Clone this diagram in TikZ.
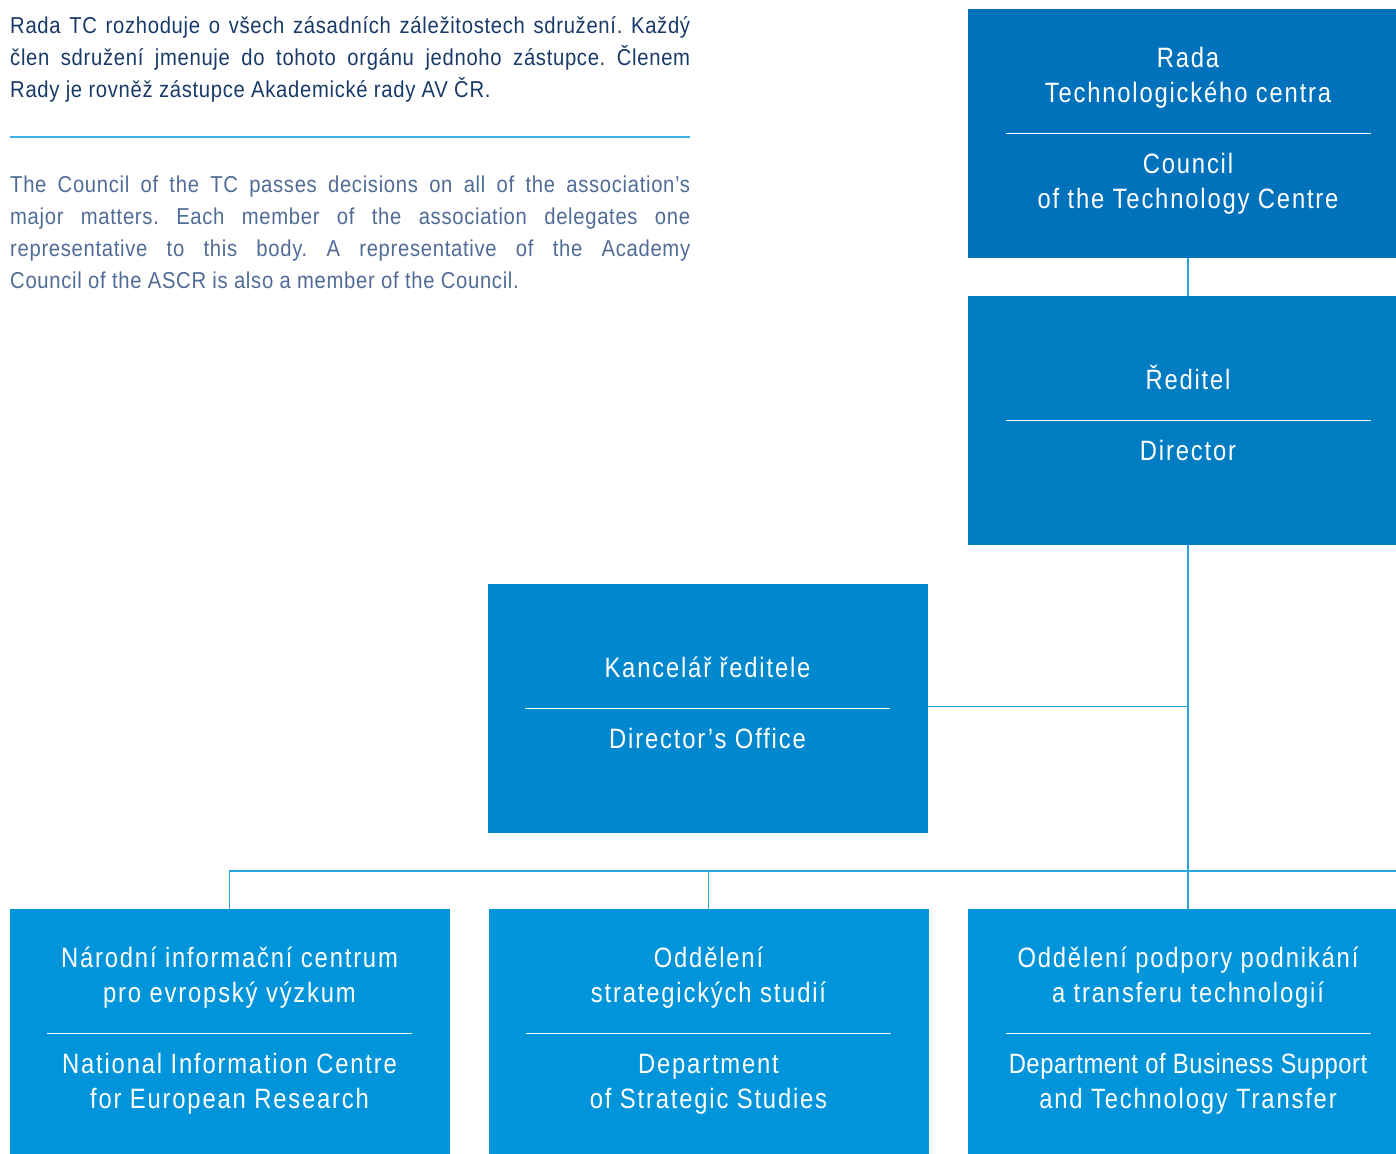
\documentclass[tikz,border=0pt]{standalone}
\usepackage{fontspec}
\setmainfont{Liberation Sans}[FakeStretch=0.88,LetterSpace=3]
\newfontfamily\boxfam{Liberation Sans}[FakeStretch=0.85,LetterSpace=6.5]
\newfontfamily\boxfamtight{Liberation Sans}[FakeStretch=0.85,LetterSpace=2]

\definecolor{czcol}{RGB}{24,58,104}
\definecolor{encol}{RGB}{80,108,150}
\definecolor{rulecol}{RGB}{60,176,228}
\definecolor{linkcol}{RGB}{40,166,222}

\begin{document}
\frenchspacing
\begin{tikzpicture}[line join=bevel,
  box/.style={rectangle,inner sep=0pt,minimum width=440bp,minimum height=249bp},
  boxtext/.style={text=white,align=center,inner sep=0pt,font=\boxfam\fontsize{28bp}{35bp}\selectfont},
  sepline/.style={draw=white,line width=1bp},
  link/.style={draw=linkcol,line width=1.5bp},
  para/.style={anchor=base west,text width=680bp,align=justify,inner sep=0pt,font=\fontsize{23bp}{32bp}\selectfont},
]

\useasboundingbox (0bp,0bp) rectangle (1396bp,1154bp);

% Text: Czech and English paragraphs
\node[para,text=czcol] (cz) at (10bp,1120bp) {Rada TC rozhoduje o všech zásadních záležitostech sdružení. Každý\linebreak
člen sdružení jmenuje do tohoto orgánu jednoho zástupce. Členem\linebreak
Rady je rovněž zástupce Akademické rady AV ČR.};
\draw [rulecol,line width=1.2bp] (10bp,1017bp) -- (690bp,1017bp);
\node[para,text=encol] (en) at (10bp,961bp) {The Council of the TC passes decisions on all of the association’s\linebreak
major matters. Each member of the association delegates one\linebreak
representative to this body. A representative of the Academy\linebreak
Council of the ASCR is also a member of the Council.};

% Node: Rada
\begin{scope}
  \definecolor{fillcol}{RGB}{0,114,188}
  \node[box,fill=fillcol] (rada) at (1188bp,1020.5bp) {};
  \draw[sepline] ([xshift=-182.5bp]rada.center) -- ([xshift=182.5bp]rada.center);
  \node[boxtext,anchor=base] (rada-cz) at ([yshift=30.5bp]rada.center) {Rada\\Technologického centra};
  \node[boxtext,anchor=base] (rada-en) at ([yshift=-75bp]rada.center) {Council\\of the Technology Centre};
\end{scope}

% Node: Reditel
\begin{scope}
  \definecolor{fillcol}{RGB}{0,124,194}
  \node[box,fill=fillcol] (reditel) at (1188bp,733.5bp) {};
  \draw[sepline] ([xshift=-182.5bp]reditel.center) -- ([xshift=182.5bp]reditel.center);
  \node[boxtext,anchor=base] (reditel-cz) at ([yshift=30.5bp]reditel.center) {Ředitel};
  \node[boxtext,anchor=base] (reditel-en) at ([yshift=-40bp]reditel.center) {Director};
\end{scope}

% Node: Kancelar
\begin{scope}
  \definecolor{fillcol}{RGB}{0,136,207}
  \node[box,fill=fillcol] (kancelar) at (707.5bp,445.5bp) {};
  \draw[sepline] ([xshift=-182.5bp]kancelar.center) -- ([xshift=182.5bp]kancelar.center);
  \node[boxtext,anchor=base] (kancelar-cz) at ([yshift=30.5bp]kancelar.center) {Kancelář ředitele};
  \node[boxtext,anchor=base] (kancelar-en) at ([yshift=-40bp]kancelar.center) {Director’s Office};
\end{scope}

% Nodes: departments
\begin{scope}
  \definecolor{fillcol}{RGB}{0,149,218}
  \node[box,fill=fillcol] (nicr) at (229.5bp,120.5bp) {};
  \draw[sepline] ([xshift=-182.5bp]nicr.center) -- ([xshift=182.5bp]nicr.center);
  \node[boxtext,anchor=base] (nicr-cz) at ([yshift=30.5bp]nicr.center) {Národní informační centrum\\pro evropský výzkum};
  \node[boxtext,anchor=base] (nicr-en) at ([yshift=-75bp]nicr.center) {National Information Centre\\for European Research};

  \node[box,fill=fillcol] (oss) at (708.5bp,120.5bp) {};
  \draw[sepline] ([xshift=-182.5bp]oss.center) -- ([xshift=182.5bp]oss.center);
  \node[boxtext,anchor=base] (oss-cz) at ([yshift=30.5bp]oss.center) {Oddělení\\strategických studií};
  \node[boxtext,anchor=base] (oss-en) at ([yshift=-75bp]oss.center) {Department\\of Strategic Studies};

  \node[box,fill=fillcol] (opp) at (1188bp,120.5bp) {};
  \draw[sepline] ([xshift=-182.5bp]opp.center) -- ([xshift=182.5bp]opp.center);
  \node[boxtext,anchor=base] (opp-cz) at ([yshift=30.5bp]opp.center) {Oddělení podpory podnikání\\a transferu technologií};
  \node[boxtext,anchor=base] (opp-en) at ([yshift=-75bp]opp.center) {\boxfamtight Department of Business Support\\and Technology Transfer};
\end{scope}

% Edge: Rada -> Reditel
\draw[link] (rada.south) -- (reditel.north);

% Edge: Reditel -> Kancelar
\draw[link] ([yshift=2bp]kancelar.east) -- ([yshift=2bp]kancelar.east -| reditel.south);

% Edge: Reditel -> departments
\coordinate (busend) at (1420bp,283bp);
\draw[link] (reditel.south) -- (opp.north);
\draw[link] (nicr.north) |- (busend);
\draw[link] (oss.north) -- (oss.north |- busend);

\end{tikzpicture}
\end{document}
